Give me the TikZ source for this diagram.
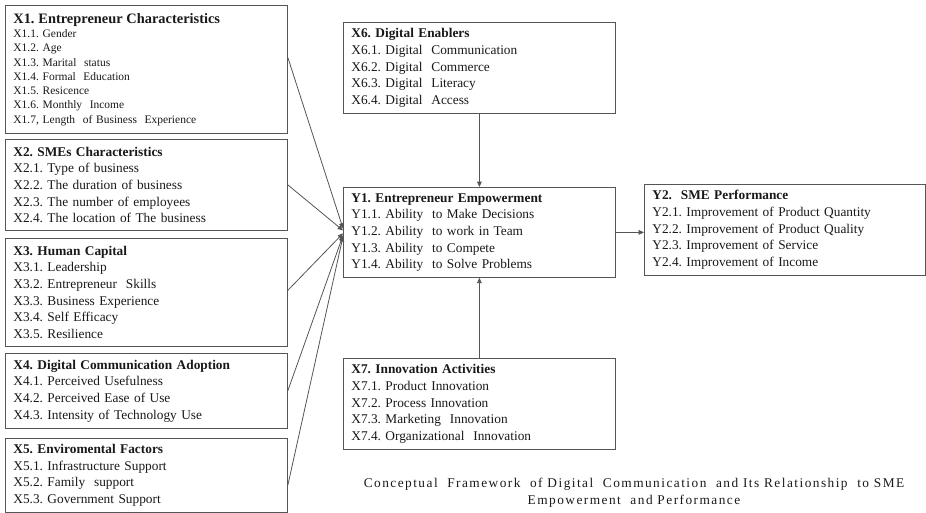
\documentclass[tikz,border=0pt]{standalone}
\usepackage{fontspec}
\setmainfont{Liberation Serif}
\usepackage{xcolor}
\definecolor{frame-gray}{RGB}{85,85,85}
\definecolor{text-dark}{RGB}{25,25,25}
\usepackage{tikz}
\usetikzlibrary{arrows.meta}
\frenchspacing

\begin{document}
\begin{tikzpicture}[
    x=0.75pt, y=-0.75pt,
    varbox/.style={
        draw=frame-gray,
        line width=0.6pt,
        fill=white,
        anchor=north west,
        align=left,
        inner xsep=6pt,
        inner ysep=0pt,
        text=text-dark,
        font=\fontsize{10}{12.5}\selectfont
    },
    wide/.style={text width=199.5pt},
    mid/.style={text width=192pt},
    link/.style={
        draw=frame-gray,
        line width=0.6pt,
        -{Triangle[length=4pt,width=3.5pt]}
    }
]

% Canvas
\useasboundingbox (0,0) rectangle (926,513);

% Left column: independent variables
\node[varbox, wide, minimum height=96pt, font=\fontsize{8.6}{10.7}\selectfont] (X1) at (5,5) {
{\fontsize{10.8}{11}\selectfont\textbf{X1. Entrepreneur Characteristics}}\\
X1.1. Gender\\
X1.2. Age\\
X1.3. Marital\ \ status\\
X1.4. Formal\ \ Education\\
X1.5. Resicence\\
X1.6. Monthly\ \ Income\\
X1.7, Length\ \ of Business\ \ Experience
};

\node[varbox, wide, minimum height=68.25pt] (X2) at (5,139) {
\textbf{X2. SMEs Characteristics}\\
X2.1. Type of business\\
X2.2. The duration of business\\
X2.3. The number of employees\\
X2.4. The location of The business
};

\node[varbox, wide, minimum height=81pt] (X3) at (5,238) {
\textbf{X3. Human Capital}\\
X3.1. Leadership\\
X3.2. Entrepreneur\ \ Skills\\
X3.3. Business Experience\\
X3.4. Self Efficacy\\
X3.5. Resilience
};

\node[varbox, wide, minimum height=56.25pt] (X4) at (5,353) {
\textbf{X4. Digital Communication Adoption}\\
X4.1. Perceived Usefulness\\
X4.2. Perceived Ease of Use\\
X4.3. Intensity of Technology Use
};

\node[varbox, wide, minimum height=55.5pt] (X5) at (5,438) {
\textbf{X5. Enviromental Factors}\\
X5.1. Infrastructure Support\\
X5.2. Family\ \ support\\
X5.3. Government Support
};

% Middle column
\node[varbox, mid, minimum height=68.25pt] (X6) at (343,22) {
\textbf{X6. Digital Enablers}\\
X6.1. Digital\ \ Communication\\
X6.2. Digital\ \ Commerce\\
X6.3. Digital\ \ Literacy\\
X6.4. Digital\ \ Access
};

\node[varbox, mid, minimum height=67.5pt] (Y1) at (343,187) {
\textbf{Y1. Entrepreneur Empowerment}\\
Y1.1. Ability\ \ to Make Decisions\\
Y1.2. Ability\ \ to work in Team\\
Y1.3. Ability\ \ to Compete\\
Y1.4. Ability\ \ to Solve Problems
};

\node[varbox, mid, minimum height=68.25pt] (X7) at (343,358) {
\textbf{X7. Innovation Activities}\\
X7.1. Product Innovation\\
X7.2. Process Innovation\\
X7.3. Marketing\ \ Innovation\\
X7.4. Organizational\ \ Innovation
};

% Right column: outcome
\node[varbox, text width=198.75pt, minimum height=68.25pt] (Y2) at (644,184) {
\textbf{Y2.\ \ SME Performance}\\
Y2.1. Improvement of Product Quantity\\
Y2.2. Improvement of Product Quality\\
Y2.3. Improvement of Service\\
Y2.4. Improvement of Income
};

% Caption
\node[
    align=center,
    text=text-dark,
    font={\fontsize{10}{12.75}\selectfont\addfontfeature{LetterSpace=11}}
] (caption) at (634,493) {
Conceptual\ \ Framework\ \ of Digital\ \ Communication\ \ and Its Relationship\ \ to SME\\
Empowerment\ \ and Performance
};

% Paths into Y1
\draw[link] ([yshift=9pt]X1.east) -- ([yshift=3pt]Y1.west);
\draw[link] (X2.east) -- ([yshift=1.5pt]Y1.west);
\draw[link] ([yshift=1.5pt]X3.east) -- ([yshift=-0.75pt]Y1.west);
\draw[link] (X4.east) -- ([yshift=-2.25pt]Y1.west);
\draw[link] ([yshift=-7.5pt]X5.east) -- ([yshift=-3pt]Y1.west);
\draw[link] (X6.south) -- (X6.south |- Y1.north);
\draw[link] (X7.north) -- (X7.north |- Y1.south);

% Y1 to Y2
\draw[link] (Y1.east) -- (Y1.east -| Y2.west);

\end{tikzpicture}
\end{document}
